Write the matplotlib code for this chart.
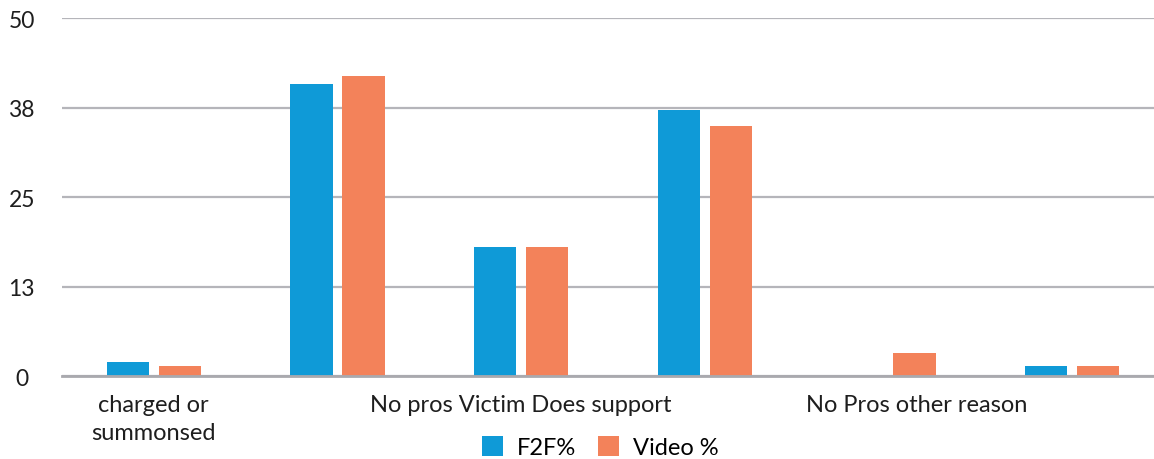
import matplotlib.pyplot as plt
import numpy as np
from matplotlib.transforms import ScaledTranslation

categories = ["charged or\nsummonsed", "", "No pros Victim Does support", "", "No Pros other reason", ""]
f2f = [2.0, 40.8, 18.1, 37.2, 0.0, 1.4]
video = [1.4, 41.9, 18.1, 34.9, 3.2, 1.4]
yticks = [0, 12.5, 25, 37.5, 50]
ytick_labels = ["0", "13", "25", "38", "50"]

plt.rcParams['font.family'] = ['Lato', 'DejaVu Sans']

fig = plt.figure(figsize=(11.54, 4.6), dpi=100)
ax = fig.add_axes([0.0537, 0.180, 0.955, 0.778])

x = np.arange(len(categories))
w = 0.23
off = 0.142
ax.bar(x - off, f2f, w, color='#0F9AD7', label='F2F%', zorder=3)
ax.bar(x + off, video, w, color='#F3825A', label='Video %', zorder=3)

ax.set_xlim(-0.5, len(categories) - 0.5)
ax.set_ylim(0, 50)
ax.set_yticks(yticks)
ax.set_yticklabels(ytick_labels, fontsize=16.5, color='#1e1e1e')
for lab in ax.get_yticklabels():
    lab.set_horizontalalignment('center')
ax.tick_params(axis='y', length=0, pad=29)

ax.set_xticks(x)
ax.set_xticklabels(categories, fontsize=17, color='#1e1e1e', linespacing=1.4)
ax.tick_params(axis='x', length=0, pad=13)
# the last visible label sits a bit right of its group
shift = ScaledTranslation(28 / 100, 0, fig.dpi_scale_trans)
lbl = ax.get_xticklabels()[4]
lbl.set_transform(lbl.get_transform() + shift)

ax.grid(axis='y', color='#b5b5ba', linewidth=1.6, zorder=0)
for s in ['top', 'right', 'left']:
    ax.spines[s].set_visible(False)
ax.spines['bottom'].set_color('#a9a9ae')
ax.spines['bottom'].set_linewidth(2)
ax.spines['bottom'].set_zorder(4)

ax.legend(loc='center', bbox_to_anchor=(0.52, 0.026), bbox_transform=fig.transFigure,
          ncol=2, frameon=False, fontsize=17, handlelength=0.9, handleheight=0.9,
          handletextpad=0.6, columnspacing=0.9)

fig.savefig('out.png', dpi=100)
